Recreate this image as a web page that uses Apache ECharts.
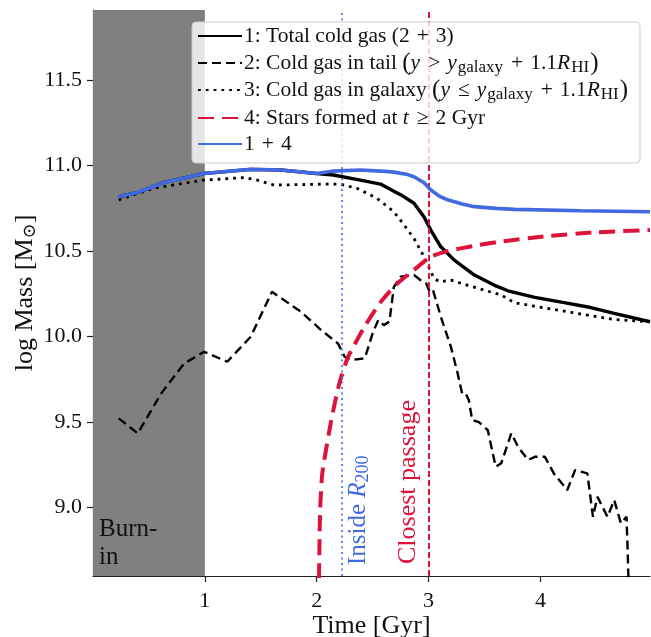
<!DOCTYPE html>
<html><head><meta charset="utf-8">
<script src="https://cdn.jsdelivr.net/npm/echarts@6/dist/echarts.min.js"></script>
<style>html,body{margin:0;padding:0;background:#fff}#c{width:651px;height:637px}</style>
</head><body><div id="c"></div>
<script>
// ---- data ----
const xTicks = [1, 2, 3, 4];
const yTicks = [9.0, 9.5, 10.0, 10.5, 11.0, 11.5];
const burnIn = [0, 1];
const eventT = [2.22, 3.0];
const eventNames = ['Inside R200', 'Closest passage'];

const totalT = [0.23,0.40,0.63,0.99,1.41,1.68,2.00,2.15,2.39,2.57,2.69,2.75,2.87,2.96,3.02,3.11,3.23,3.41,3.59,3.71,3.95,4.20,4.45,4.66,4.98];
const totalM = [10.818,10.843,10.90,10.954,10.978,10.974,10.954,10.945,10.915,10.892,10.85,10.83,10.78,10.70,10.623,10.525,10.447,10.36,10.30,10.268,10.229,10.20,10.17,10.136,10.087];

const tailT = [0.23,0.40,0.61,0.815,0.994,1.20,1.41,1.60,1.86,2.04,2.19,2.25,2.31,2.43,2.50,2.55,2.60,2.65,2.69,2.75,2.87,2.93,2.98,3.01,3.04,3.11,3.20,3.26,3.30,3.33,3.36,3.39,3.45,3.53,3.60,3.65,3.74,3.80,3.89,3.95,4.04,4.12,4.24,4.31,4.42,4.47,4.51,4.60,4.66,4.72,4.77,4.78,4.80];
const tailM = [9.522,9.434,9.668,9.843,9.911,9.853,9.999,10.262,10.145,10.038,9.96,9.882,9.863,9.873,10.019,10.097,10.067,10.087,10.291,10.35,10.36,10.33,10.31,10.262,10.272,10.116,9.94,9.785,9.668,9.67,9.629,9.512,9.50,9.453,9.239,9.259,9.434,9.356,9.278,9.297,9.297,9.20,9.102,9.219,9.20,8.946,9.063,8.946,9.044,8.908,8.946,8.75,8.3];

const galT = [0.23,0.54,0.99,1.35,1.47,1.62,2.09,2.21,2.36,2.54,2.69,2.75,2.87,2.96,3.05,3.10,3.20,3.35,3.65,3.77,4.06,4.42,4.66,4.98];
const galM = [10.80,10.867,10.915,10.93,10.915,10.886,10.892,10.892,10.867,10.808,10.73,10.68,10.574,10.467,10.34,10.32,10.33,10.30,10.243,10.198,10.165,10.126,10.10,10.087];

const starT = [2.015,2.03,2.05,2.13,2.20,2.28,2.43,2.57,2.72,2.87,3.02,3.17,3.40,3.62,4.07,4.50,4.98];
const starM = [8.3,8.97,9.2,9.51,9.72,9.88,10.06,10.20,10.31,10.39,10.467,10.50,10.53,10.554,10.588,10.61,10.623];

const sumT = [0.23,0.395,0.63,0.99,1.41,1.68,2.00,2.15,2.39,2.57,2.69,2.80,2.87,2.96,3.02,3.10,3.17,3.30,3.41,3.60,3.77,4.36,4.98];
const sumM = [10.818,10.843,10.90,10.954,10.978,10.974,10.954,10.968,10.974,10.968,10.962,10.95,10.935,10.90,10.857,10.82,10.80,10.775,10.76,10.75,10.744,10.736,10.73];

const seriesNames = ['total', 'tail', 'galaxy', 'stars', 'sum'];
const legendLabels = {
  total: '1: Total cold gas (2{op|+}3)',
  tail: '2: Cold gas in tail {p|(}{i|y}{op|>}{i|y}{sub|galaxy}{op|+}1.1{i|R}{sub|HI}{p|)}',
  galaxy: '3: Cold gas in galaxy {p|(}{i|y}{op|≤}{i|y}{sub|galaxy}{op|+}1.1{i|R}{sub|HI}{p|)}',
  stars: '{t4|4: Stars formed at }{i4|t}{op4|≥}{t4|2 Gyr}',
  sum: '{s|1}{so|+}{s|4}'
};
const burnLabel = 'Burn-\nin';

const zip = (a, b) => a.map((v, i) => [v, b[i]]);
const FONT = '"Liberation Serif", "DejaVu Serif", serif';
const RED = '#DC143C', BLUE = '#4169E1', INK = '#111';
const LF = 21.5, LH = 26;

const chart = echarts.init(document.getElementById('c'), null, {renderer: 'canvas'});

const base = {fontFamily: FONT, fontSize: LF, color: INK};
const richLegend = {
  i: {...base, fontStyle: 'italic', lineHeight: LH, padding: [0, 1, 0, 0]},
  op: {...base, lineHeight: LH, padding: [0, 7, 0, 7]},
  p: {...base, fontSize: 25, lineHeight: LH},
  sub: {...base, fontSize: 17, lineHeight: 14, verticalAlign: 'bottom', padding: [0, 1, 0, 0]},
  t4: {...base, lineHeight: 28},
  i4: {...base, fontStyle: 'italic', lineHeight: 28, padding: [0, 1, 0, 0]},
  op4: {...base, lineHeight: 28, padding: [0, 7, 0, 7]},
  s: {...base, lineHeight: 18},
  so: {...base, lineHeight: 18, padding: [0, 7, 0, 7]}
};

const option = {
  animation: false,
  backgroundColor: '#fff',
  grid: {left: 93, right: 1, top: 10, bottom: 61, containLabel: false, outerBoundsMode: 'none'},
  xAxis: {
    type: 'value', min: 0, max: 4.98,
    name: 'Time [Gyr]', nameLocation: 'middle', nameGap: 37, nameMoveOverlap: false,
    nameTextStyle: {fontFamily: FONT, fontSize: 26, lineHeight: 26, color: INK},
    axisLine: {lineStyle: {color: '#222', width: 1.2}},
    axisTick: {length: 6, lineStyle: {color: '#222', width: 1.2}, customValues: xTicks},
    axisLabel: {customValues: xTicks, fontFamily: FONT, fontSize: 22, color: INK, margin: 14},
    splitLine: {show: false}
  },
  yAxis: {
    type: 'value', min: 8.6, max: 11.91,
    name: 'log Mass [M{sub|⊙}]', nameLocation: 'middle', nameGap: 54, nameRotate: 90, nameMoveOverlap: false,
    nameTextStyle: {fontFamily: FONT, fontSize: 26, lineHeight: 28, color: INK,
      rich: {sub: {fontFamily: FONT, fontSize: 18, lineHeight: 16, color: INK, verticalAlign: 'bottom'}}},
    axisLine: {show: true, lineStyle: {color: '#222', width: 1.2}},
    axisTick: {show: true, length: 6, lineStyle: {color: '#222', width: 1.2}, customValues: yTicks},
    axisLabel: {customValues: yTicks, fontFamily: FONT, fontSize: 22, color: INK, margin: 11,
      formatter: v => v.toFixed(1)},
    splitLine: {show: false}
  },
  legend: {
    orient: 'vertical', left: 192, top: 22,
    data: seriesNames,
    itemWidth: 44, itemHeight: 14, itemGap: 1,
    padding: [1, 12, 8, 5],
    backgroundColor: 'rgba(255,255,255,0.8)',
    borderColor: '#cccccc', borderWidth: 1, borderRadius: 4,
    itemStyle: {opacity: 0},
    formatter: n => legendLabels[n],
    textStyle: {fontFamily: FONT, fontSize: LF, lineHeight: LH, color: INK, padding: [0, 0, 0, -3], rich: richLegend},
    selectedMode: false, z: 10
  },
  series: [
    {
      name: 'helper', type: 'line', data: [], silent: true, z: 1,
      markArea: {
        silent: true,
        itemStyle: {color: '#808080', opacity: 1},
        label: {show: false},
        data: [[{xAxis: burnIn[0]}, {xAxis: burnIn[1]}]]
      },
      markLine: {
        silent: true, symbol: ['none', 'none'], label: {show: false},
        data: [
          {xAxis: eventT[0], lineStyle: {color: BLUE, width: 1.6, type: [2, 3.5]}},
          {xAxis: eventT[1], lineStyle: {color: RED, width: 2, type: [6, 3]}}
        ]
      }
    },
    {name: 'total', type: 'line', data: zip(totalT, totalM), symbol: 'none', z: 3,
      lineStyle: {color: '#000', width: 3.4}, itemStyle: {color: '#000'}},
    {name: 'tail', type: 'line', data: zip(tailT, tailM), symbol: 'none', z: 3,
      lineStyle: {color: '#000', width: 2.4, type: [9, 5]}, itemStyle: {color: '#000'}},
    {name: 'galaxy', type: 'line', data: zip(galT, galM), symbol: 'none', z: 3,
      lineStyle: {color: '#000', width: 2.8, type: [2.8, 5], cap: 'butt'}, itemStyle: {color: '#000'}},
    {name: 'stars', type: 'line', data: zip(starT, starM), symbol: 'none', z: 4, smooth: 0.2,
      lineStyle: {color: RED, width: 4, type: [16, 8]}, itemStyle: {color: RED}},
    {name: 'sum', type: 'line', data: zip(sumT, sumM), symbol: 'none', z: 5,
      lineStyle: {color: BLUE, width: 3.6}, itemStyle: {color: BLUE}}
  ]
};
chart.setOption(option);

// annotation labels, positioned from the axes
const pBurn = chart.convertToPixel({gridIndex: 0}, [burnIn[0], 8.6]);
const pBlue = chart.convertToPixel({gridIndex: 0}, [eventT[0], 8.6]);
const pRed = chart.convertToPixel({gridIndex: 0}, [eventT[1], 8.6]);
chart.setOption({
  graphic: [
    {type: 'text', x: pBurn[0] + 6, y: pBurn[1] - 5, z: 20, silent: true,
      style: {text: burnLabel, fontFamily: FONT, fontSize: 25, lineHeight: 28, fill: INK,
        align: 'left', verticalAlign: 'bottom'}},
    {type: 'text', x: pBlue[0] + 17, y: pBlue[1] - 11, rotation: Math.PI / 2, z: 20, silent: true,
      style: {text: 'Inside {i|R}{sub|200}', fontFamily: FONT, fontSize: 25, lineHeight: 28, fill: BLUE,
        align: 'left', verticalAlign: 'middle',
        rich: {i: {fontStyle: 'italic', fontFamily: FONT, fontSize: 25, lineHeight: 28, fill: BLUE},
               sub: {fontFamily: FONT, fontSize: 18, lineHeight: 16, fill: BLUE, verticalAlign: 'bottom'}}}},
    {type: 'text', x: pRed[0] - 20, y: pRed[1] - 12, rotation: Math.PI / 2, z: 20, silent: true,
      style: {text: eventNames[1], fontFamily: FONT, fontSize: 26, fill: RED,
        align: 'left', verticalAlign: 'middle'}}
  ]
});
</script></body></html>
